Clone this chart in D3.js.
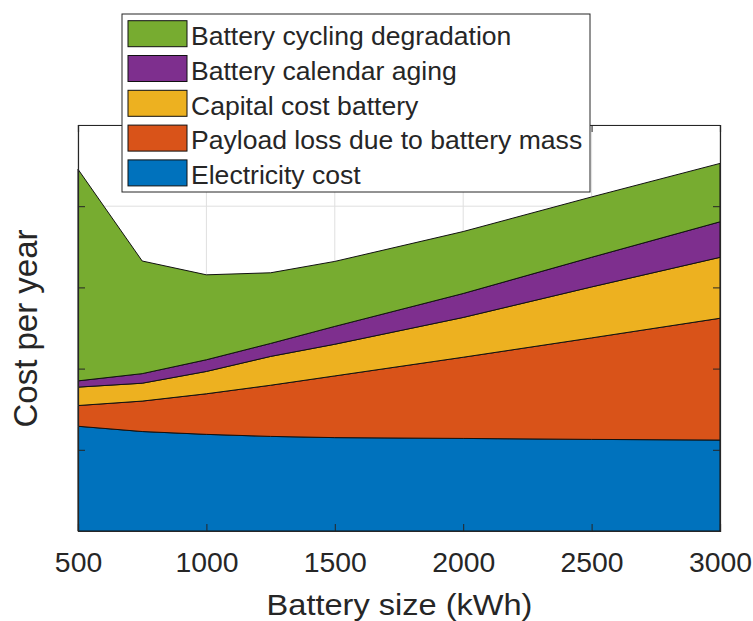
<!DOCTYPE html>
<html>
<head>
<meta charset="utf-8">
<script src="https://cdn.jsdelivr.net/npm/d3@7"></script>
<style>
  html, body { margin: 0; padding: 0; background: #fff; }
  svg { display: block; }
  text { font-family: "Liberation Sans", Arial, Helvetica, sans-serif; fill: #262626; }
</style>
</head>
<body>
<svg id="chart" width="753" height="621"></svg>
<script>
// ---- Data ----
const sizes       = [500, 750, 1000, 1250, 1500, 2000, 2500, 3000];
const electricity = [1.29, 1.225, 1.19, 1.165, 1.15, 1.14, 1.128, 1.12];
const payload     = [0.255, 0.375, 0.50, 0.63, 0.76, 1.00, 1.25, 1.50];
const capital     = [0.227, 0.22, 0.275, 0.355, 0.39, 0.49, 0.628, 0.75];
const calendar    = [0.077, 0.118, 0.144, 0.16, 0.22, 0.295, 0.365, 0.438];
const cycling     = [2.606, 1.387, 1.046, 0.87, 0.80, 0.763, 0.743, 0.719];

const seriesNames  = ["Electricity cost", "Payload loss due to battery mass", "Capital cost battery", "Battery calendar aging", "Battery cycling degradation"];
const seriesKeys   = ["electricity", "payload", "capital", "calendar", "cycling"];
const seriesColors = ["#0072BD", "#D95319", "#EDB120", "#7E2F8E", "#77AC30"];
const xTicks = [500, 1000, 1500, 2000, 2500, 3000];
const yTicks = [0, 1, 2, 3, 4, 5];

const table = sizes.map((s, i) => ({
  size: s,
  electricity: electricity[i],
  payload: payload[i],
  capital: capital[i],
  calendar: calendar[i],
  cycling: cycling[i]
}));

// ---- Layout ----
const svg = d3.select("#chart");
const L = 78, R = 720, T = 125, B = 531;
const x = d3.scaleLinear().domain([500, 3000]).range([L, R]);
const y = d3.scaleLinear().domain([0, 5]).range([B, T]);
const axisColor = "#262626";

// Grid
const grid = svg.append("g");
grid.selectAll("line.vx").data(xTicks).join("line")
  .attr("x1", d => x(d)).attr("x2", d => x(d))
  .attr("y1", T).attr("y2", B)
  .attr("stroke", "#dfdfdf").attr("stroke-width", 1);
grid.selectAll("line.hy").data(yTicks).join("line")
  .attr("x1", L).attr("x2", R)
  .attr("y1", d => y(d)).attr("y2", d => y(d))
  .attr("stroke", "#dfdfdf").attr("stroke-width", 1);

// Stacked areas
const stack = d3.stack().keys(seriesKeys);
const stacked = stack(table);
const area = d3.area()
  .x(d => x(d.data.size))
  .y0(d => y(d[0]))
  .y1(d => y(d[1]));

svg.append("g").selectAll("path").data(stacked).join("path")
  .attr("d", area)
  .attr("fill", (d, i) => seriesColors[i])
  .attr("stroke", "#111")
  .attr("stroke-width", 1)
  .attr("stroke-linejoin", "round");

// Axes (ticks pointing inward)
const tickLen = 7;
const gx = svg.append("g").attr("transform", `translate(0,${B})`)
  .call(d3.axisBottom(x).tickValues(xTicks).tickSize(-tickLen).tickPadding(22).tickFormat(d3.format("d")));
const gxTop = svg.append("g").attr("transform", `translate(0,${T})`)
  .call(d3.axisTop(x).tickValues(xTicks).tickSize(-tickLen).tickFormat(""));
const gy = svg.append("g").attr("transform", `translate(${L},0)`)
  .call(d3.axisLeft(y).tickValues(yTicks).tickSize(-tickLen).tickFormat(""));
const gyR = svg.append("g").attr("transform", `translate(${R},0)`)
  .call(d3.axisRight(y).tickValues(yTicks).tickSize(-tickLen).tickFormat(""));

[gx, gxTop, gy, gyR].forEach(g => {
  g.select(".domain").attr("stroke", axisColor).attr("stroke-width", 1.2);
  g.selectAll(".tick line").attr("stroke", axisColor).attr("stroke-width", 1);
});
gx.selectAll(".tick text")
  .attr("font-size", 27)
  .attr("font-family", "'Liberation Sans', Arial, sans-serif")
  .attr("fill", axisColor)
  .attr("transform", "scale(1.05,1)");

// Axis labels
svg.append("text")
  .attr("transform", `translate(${(L + R) / 2 + 0.5},615) scale(1.085,1)`)
  .attr("text-anchor", "middle")
  .attr("font-size", 30)
  .text("Battery size (kWh)");

svg.append("text")
  .attr("transform", `translate(37,${(230 + 427) / 2}) rotate(-90)`)
  .attr("text-anchor", "middle")
  .attr("font-size", 33)
  .text("Cost per year");

// Legend (top to bottom: reversed stacking order)
const legend = svg.append("g");
legend.append("rect")
  .attr("x", 122).attr("y", 14).attr("width", 468).attr("height", 178)
  .attr("fill", "#fff").attr("stroke", axisColor).attr("stroke-width", 1);
const order = [4, 3, 2, 1, 0];
const rows = legend.selectAll("g.row").data(order).join("g")
  .attr("transform", (d, i) => `translate(0,${20.7 + i * 34.8})`);
rows.append("rect")
  .attr("x", 128).attr("y", 0).attr("width", 59).attr("height", 26)
  .attr("fill", d => seriesColors[d]).attr("stroke", "#111").attr("stroke-width", 1);
rows.append("text")
  .attr("transform", "translate(191,24.3) scale(1.063,1)")
  .attr("font-size", 25)
  .text(d => seriesNames[d]);
</script>
</body>
</html>
